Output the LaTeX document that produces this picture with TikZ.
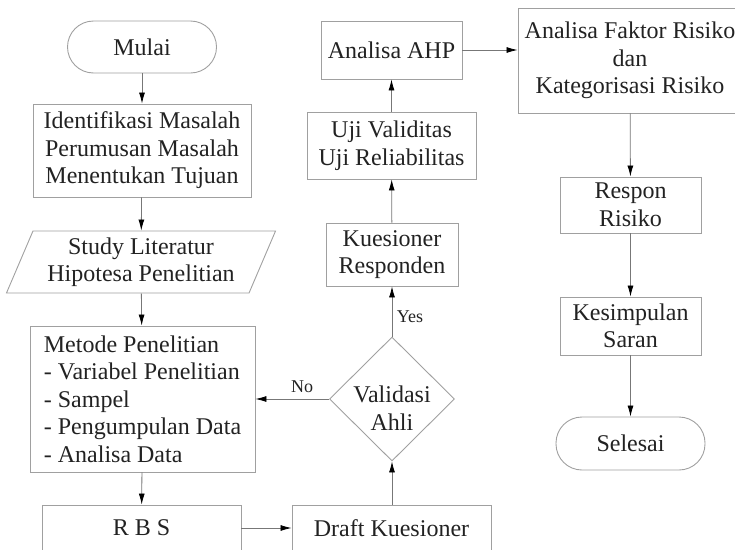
\documentclass[tikz,border=0pt]{standalone}
\usepackage{fontspec}
\setmainfont{Liberation Serif}
\usetikzlibrary{arrows.meta,shapes.geometric}
\definecolor{edgegray}{HTML}{A0A0A0}
\definecolor{linegray}{HTML}{777777}
\definecolor{txtgray}{HTML}{222222}
\tikzset{
  base/.style={draw=edgegray, line width=0.9pt, inner sep=0pt, text=txtgray,
    font=\fontsize{24}{27.5}\selectfont, align=center},
  box/.style={base, rectangle},
  term/.style={base, rectangle, rounded corners=26pt},
  io/.style={base, trapezium, trapezium left angle=65, trapezium right angle=115,
    trapezium stretches=true},
  dec/.style={base, diamond},
  plain/.style={inner sep=0pt, text=txtgray, font=\fontsize{24}{27.5}\selectfont, align=center},
  lbl/.style={inner sep=0pt, text=txtgray, font=\fontsize{18}{20}\selectfont},
  arr/.style={draw=linegray, line width=0.8pt, -{Latex[length=11pt,width=6pt,color=black]}}
}
\begin{document}
\begin{tikzpicture}[x=1pt,y=-1pt]
\useasboundingbox (0,0) rectangle (735,549);
\node[term, minimum width=149pt, minimum height=52pt] (mulai) at (142,47) {Mulai};
\node[box, minimum width=218pt, minimum height=93pt] (ident) at (142,150.5)
  {Identifikasi Masalah\\Perumusan Masalah\\Menentukan Tujuan};
\node[io, minimum width=270pt, minimum height=62pt] (study) at (141,262)
  {Study Literatur\\Hipotesa Penelitian};
\node[box, align=left, minimum width=225pt, minimum height=146pt] (metode) at (142.5,399)
  {Metode Penelitian\\- Variabel Penelitian\\- Sampel\\- Pengumpulan Data\\- Analisa Data};
\node[box, minimum width=199pt, minimum height=46pt] (rbs) at (141.5,528) {R B S};
\node[box, minimum width=199pt, minimum height=46pt] (draft) at (391.5,528) {Draft Kuesioner};
\node[dec, minimum width=125pt, minimum height=124pt] (val) at (392,399) {};
\node[plain] (valtxt) at (392,408) {Validasi\\Ahli};
\node[box, minimum width=132pt, minimum height=63pt] (kues) at (392,254.5) {Kuesioner\\Responden};
\node[box, minimum width=169pt, minimum height=67pt] (uji) at (391.5,145.5) {Uji Validitas\\Uji Reliabilitas};
\node[box, minimum width=141pt, minimum height=58pt] (ahp) at (391.5,50) {Analisa AHP};
\node[box, minimum width=224pt, minimum height=105pt] (faktor) at (630,60.5)
  {Analisa Faktor Risiko\\dan\\Kategorisasi Risiko};
\node[box, minimum width=141pt, minimum height=56pt] (respon) at (630.5,205) {Respon\\Risiko};
\node[box, minimum width=141pt, minimum height=58pt] (kesim) at (630.5,326) {Kesimpulan\\Saran};
\node[term, minimum width=149pt, minimum height=53pt] (selesai) at (630.5,443.5) {Selesai};
\node[lbl] (no) at (302,387) {No};
\node[lbl] (yes) at (410,317) {Yes};

\draw[arr] (mulai) -- (ident);
\draw[arr] (ident) -- (study);
\draw[arr] (study) -- (metode);
\draw[arr] (metode) -- (rbs);
\draw[arr] (rbs) -- (draft);
\draw[arr] (draft.north -| val.south) -- (val.south);
\draw[arr] (val.west) -- (val.west -| metode.east);
\draw[arr] (val.north) -- (kues.south);
\draw[arr] (kues) -- (uji);
\draw[arr] (uji) -- (ahp);
\draw[arr] (ahp.east) -- (ahp.east -| faktor.west);
\draw[arr] (faktor) -- (respon);
\draw[arr] (respon) -- (kesim);
\draw[arr] (kesim) -- (selesai);
\end{tikzpicture}
\end{document}
